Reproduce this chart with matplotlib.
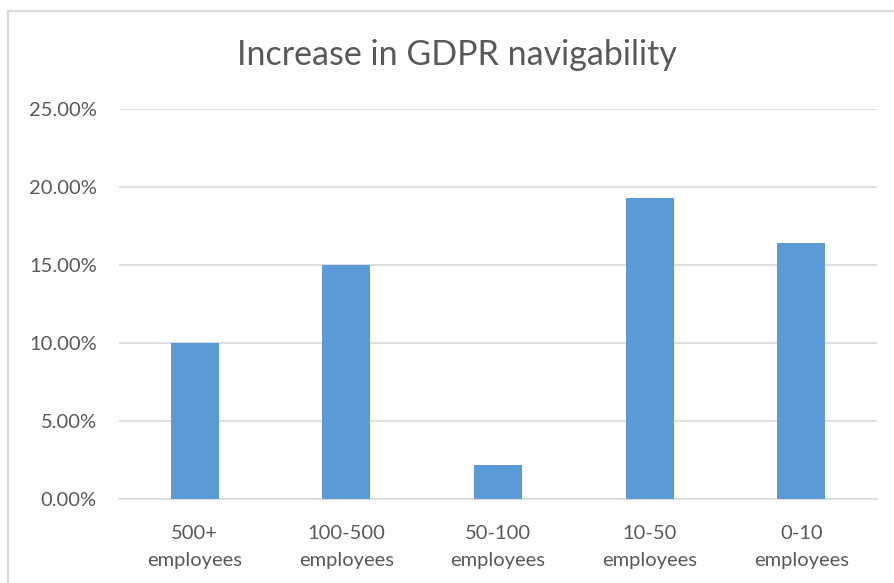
import matplotlib
matplotlib.use("Agg")
import matplotlib.pyplot as plt
from matplotlib.patches import Rectangle
from matplotlib.ticker import FuncFormatter

categories = ["500+\nemployees", "100-500\nemployees", "50-100\nemployees",
              "10-50\nemployees", "0-10\nemployees"]
values = [0.100, 0.150, 0.022, 0.193, 0.164]
y_ticks = [0.0, 0.05, 0.10, 0.15, 0.20, 0.25]

TEXT = "#595959"
BAR = "#5B9BD5"
GRID = "#D9D9D9"
FONT = ["Lato", "DejaVu Sans"]

plt.rcParams["font.family"] = FONT

fig = plt.figure(figsize=(8.94, 5.83), dpi=100)
ax = fig.add_axes([119 / 894, 1 - 499 / 583, (877 - 119) / 894, (499 - 109.3) / 583])

x = range(len(categories))
ax.bar(x, values, width=0.316, color=BAR, zorder=3)

ax.set_xlim(-0.5, len(categories) - 0.5)
ax.set_ylim(0, 0.25)
ax.set_yticks(y_ticks)
ax.yaxis.set_major_formatter(FuncFormatter(lambda v, _: f"{v * 100:.2f}%"))
ax.set_xticks(list(x))
ax.set_xticklabels(categories, linespacing=1.7)

ax.grid(axis="y", color=GRID, linewidth=1.2, zorder=0)
for side in ["top", "right", "left"]:
    ax.spines[side].set_visible(False)
ax.spines["bottom"].set_color(GRID)
ax.spines["bottom"].set_linewidth(1.2)
ax.tick_params(axis="both", length=0, colors=TEXT, labelsize=14.5)
ax.tick_params(axis="y", pad=16)
ax.tick_params(axis="x", pad=19)

fig.text(457 / 894, 1 - 55 / 583, "Increase in GDPR navigability",
         ha="center", va="center", fontsize=24.5, color=TEXT)

# chart frame
fig.patches.append(Rectangle((8 / 894, -0.1), 1.2, 1.1 - 11 / 583,
                             transform=fig.transFigure, fill=False,
                             edgecolor=GRID, linewidth=1.5))

fig.savefig("out.png", dpi=100, facecolor="white")
